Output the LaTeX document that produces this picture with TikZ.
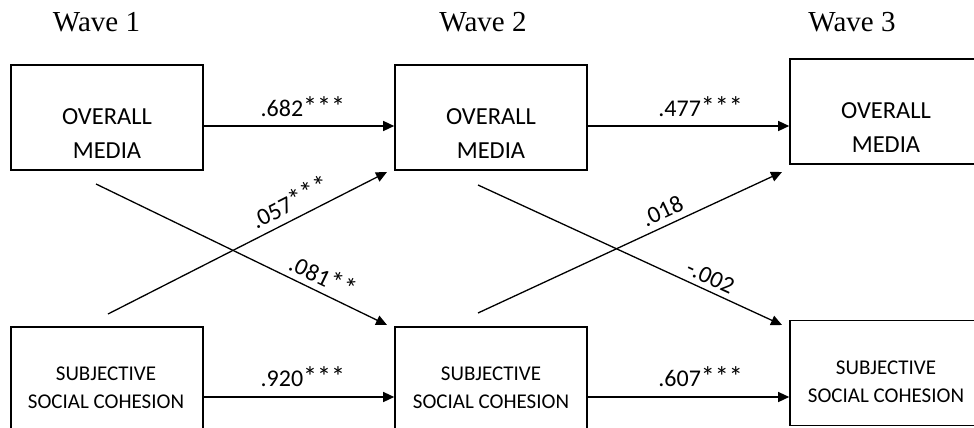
\documentclass[tikz,border=0pt]{standalone}
\usepackage{fontspec}
\setmainfont{Carlito}
\newfontfamily\wavefont{Liberation Serif}
\usetikzlibrary{arrows.meta}
\newcommand\bigstars[1]{{\fontsize{28}{28}\selectfont #1}}
\begin{document}
\begin{tikzpicture}[x=1pt,y=-1pt,
  box/.style={draw, line width=1.6pt, minimum width=192pt, minimum height=105pt, inner sep=0pt},
  bigtxt/.style={font=\fontsize{24.5}{34}\selectfont, align=center, inner sep=0pt},
  smalltxt/.style={font=\fontsize{21}{28.5}\selectfont, align=center, inner sep=0pt},
  wave/.style={font=\wavefont\fontsize{29}{30}\selectfont, inner sep=0pt, anchor=base},
  arr/.style={line width=1.3pt, -{Triangle[length=11pt,width=10pt]}},
  coef/.style={font=\fontsize{24}{26}\selectfont, inner sep=0pt},
]
\useasboundingbox (0,0) rectangle (974,428);
\clip (0,0) rectangle (974,428);

% wave headings
\node[wave] (w1) at (96.5,32) {Wave 1};
\node[wave] (w2) at (483,32) {Wave 2};
\node[wave] (w3) at (852,32) {Wave 3};

% boxes
\node[box] (m1) at (107,117.5) {};
\node[box] (m2) at (491,117.5) {};
\node[box] (m3) at (886,111.5) {};
\node[box] (s1) at (107,379.5) {};
\node[box] (s2) at (491,379.5) {};
\node[box] (s3) at (886,373) {};

% box texts
\node[bigtxt] (tm1) at (107,134) {OVERALL\\MEDIA};
\node[bigtxt] (tm2) at (491,134) {OVERALL\\MEDIA};
\node[bigtxt] (tm3) at (886,128) {OVERALL\\MEDIA};
\node[smalltxt] (ts1) at (106,388) {SUBJECTIVE\\SOCIAL COHESION};
\node[smalltxt] (ts2) at (491,388) {SUBJECTIVE\\SOCIAL COHESION};
\node[smalltxt] (ts3) at (886,382) {SUBJECTIVE\\SOCIAL COHESION};

% horizontal paths
\draw[arr] ([yshift=-8.5pt]m1.east) -- node[coef, pos=0.52, above=9pt] {.682\bigstars{***}} ([yshift=-8.5pt]m2.west);
\draw[arr] ([yshift=-8.5pt]m2.east) -- node[coef, pos=0.56, above=9pt] {.477\bigstars{***}} ([yshift=-8.5pt]m2.east -| m3.west);
\draw[arr] ([yshift=-17.5pt]s1.east) -- node[coef, pos=0.52, above=10pt] {.920\bigstars{***}} ([yshift=-17.5pt]s2.west);
\draw[arr] ([yshift=-17.5pt]s2.east) -- node[coef, pos=0.56, above=10pt] {.607\bigstars{***}} ([yshift=-17.5pt]s2.east -| s3.west);

% cross-lagged paths
\coordinate (a1) at (96,184);
\coordinate (a2) at (387,325);
\coordinate (b1) at (108,314);
\coordinate (b2) at (387,172);
\coordinate (c1) at (478,185);
\coordinate (c2) at (782,325);
\coordinate (d1) at (478,313);
\coordinate (d2) at (782,172);

\draw[arr] (b1) -- node[coef, sloped, pos=0.68, above=7pt] {.057\bigstars{***}} (b2);
\draw[arr] (a1) -- node[coef, sloped, pos=0.756, above=6pt] {.081\bigstars{**}} (a2);
\draw[arr] (d1) -- node[coef, sloped, pos=0.627, above=6pt] {.018} (d2);
\draw[arr] (c1) -- node[coef, sloped, pos=0.746, above=5pt] {-.002} (c2);
\end{tikzpicture}
\end{document}
